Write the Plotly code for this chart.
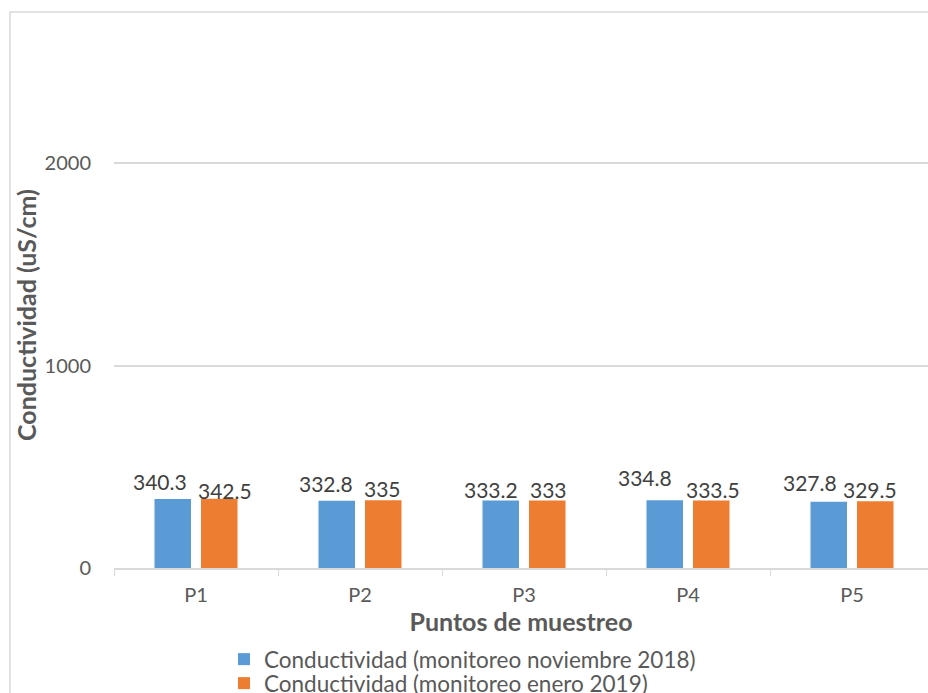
import plotly.graph_objects as go

categories = ["P1", "P2", "P3", "P4", "P5"]
nov_2018 = [340.3, 332.8, 333.2, 334.8, 327.8]
ene_2019 = [342.5, 335, 333, 333.5, 329.5]
series_names = ["Conductividad (monitoreo noviembre 2018)", "Conductividad (monitoreo enero 2019)"]
y_ticks = [0, 1000, 2000]

# label placement tweaks (pixels), as in the original chart
nov_label_dx = [-13, -11, -10, -20, -19]
nov_label_dy = [9, 9, 3, 14, 11]
ene_label_dx = [6, -1, 1, 2, -5]
ene_label_dy = [0, 3, 3, 3, 3]

FONT = "Lato"
W, H = 928, 693
ML, MR, MT, MB = 114, 0, 62, H - 568
pw, ph = W - ML - MR, H - MT - MB
cat_px = 164.0
xmax = -0.5 + pw / cat_px
bargap, bargroupgap = 0.433, 0.215
slot = cat_px * (1 - bargap) / 2
LABEL_SIZE = 21


def py(page_y):
    """page pixel y -> paper y"""
    return (MT + ph - page_y) / ph


def px(page_x):
    return (page_x - ML) / pw


fig = go.Figure()
for vals, name, col, lg in [(nov_2018, series_names[0], "#5B9BD5", "legend"),
                            (ene_2019, series_names[1], "#ED7D31", "legend2")]:
    fig.add_trace(go.Bar(x=categories, y=vals, name=name, legend=lg,
                         marker=dict(color=col, line=dict(width=0))))

annotations = []
for vals, dxs, dys, side in [(nov_2018, nov_label_dx, nov_label_dy, -1), (ene_2019, ene_label_dx, ene_label_dy, 1)]:
    for c, v, dx, dy in zip(categories, vals, dxs, dys):
        annotations.append(dict(x=c, y=v, xref="x", yref="y", text=str(v), showarrow=False,
                                xanchor="center", yanchor="bottom",
                                xshift=side * slot / 2 + dx, yshift=dy - 6,
                                font=dict(size=LABEL_SIZE, color="#404040", family=FONT)))

legend_common = dict(orientation="v", xanchor="left", yanchor="top",
                     font=dict(size=22.5, color="#595959", family=FONT),
                     bgcolor="rgba(0,0,0,0)", itemwidth=30, tracegroupgap=0)

fig.update_layout(
    width=W, height=H,
    margin=dict(l=ML, r=MR, t=MT, b=MB, autoexpand=False),
    paper_bgcolor="white", plot_bgcolor="white",
    barmode="group", bargap=bargap, bargroupgap=bargroupgap,
    font=dict(family=FONT, color="#595959"),
    showlegend=True,
    legend=dict(x=px(224), y=py(638), **legend_common),
    legend2=dict(x=px(224), y=py(662), **legend_common),
    xaxis=dict(range=[-0.5, xmax], showgrid=False, showline=True, linecolor="#D9D9D9", linewidth=1.5,
               ticks="outside", tickson="boundaries", ticklen=6, tickcolor="#D9D9D9",
               ticklabelstandoff=8,
               tickfont=dict(size=20, color="#595959", family=FONT),
               title=dict(text="<b>Puntos de muestreo</b>", font=dict(size=25, color="#595959", family=FONT),
                          standoff=0)),
    yaxis=dict(range=[0, 2500], tickvals=y_ticks, showgrid=True, gridcolor="#D9D9D9", gridwidth=1.5,
               zeroline=False, showline=False, ticks="", ticklabelstandoff=22,
               tickfont=dict(size=20, color="#595959", family=FONT),
               title=dict(text="<b>Conductividad (uS/cm)</b>", font=dict(size=25, color="#595959", family=FONT),
                          standoff=0)),
    annotations=annotations,
    shapes=[dict(type="rect", xref="paper", yref="paper",
                 x0=px(10), x1=1.05, y0=-0.5, y1=py(12),
                 line=dict(color="#D9D9D9", width=1.5), fillcolor="rgba(0,0,0,0)", layer="below")],
)

fig.write_html("out.html", config={"displayModeBar": False},
               post_script="document.body.style.margin='0';document.body.style.overflow='hidden';")
